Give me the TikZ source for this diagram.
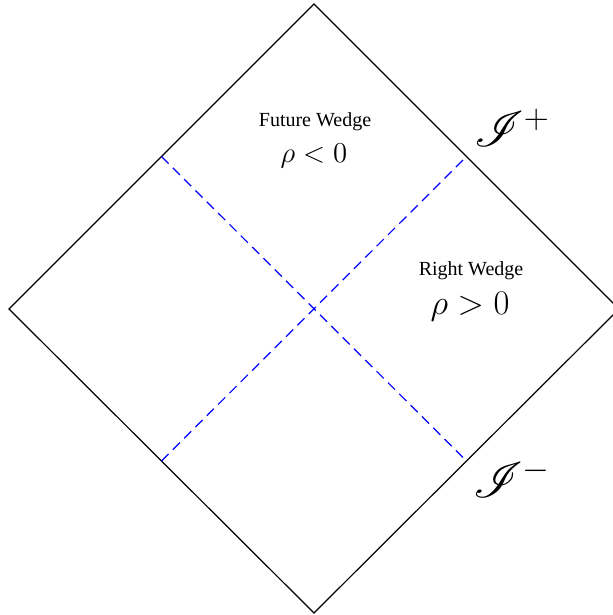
\documentclass[tikz,border=0pt]{standalone}
\usepackage{amsmath,amssymb}
\usepackage{mathrsfs}
\usepackage{fontspec}
\setmainfont{Liberation Serif}
\usepackage{tikz}
\usetikzlibrary{calc}

\begin{document}
\begin{tikzpicture}[x=0.5pt,y=-0.5pt]
  \useasboundingbox (0,0) rectangle (613,615);
  \clip (0,0) rectangle (613,615);
  \coordinate (t) at (314,4);
  \coordinate (l) at (9,309);
  \coordinate (r) at (619,309);
  \coordinate (b) at (314,613);
  \draw[line width=0.6pt] (t) -- (r) -- (b) -- (l) -- cycle;
  \coordinate (tl) at ($(t)!0.5!(l)$);
  \coordinate (tr) at ($(t)!0.5!(r)$);
  \coordinate (bl) at ($(b)!0.5!(l)$);
  \coordinate (br) at ($(b)!0.5!(r)$);
  \draw[blue,line width=0.6pt,dash pattern=on 5pt off 3pt] (tl) -- (br);
  \draw[blue,line width=0.6pt,dash pattern=on 5pt off 3pt] (bl) -- (tr);
  \node (fw) at (315,122) {Future Wedge};
  \node (fr) at (314,156) {\Large $\rho<0$};
  \node (rw) at (471,271) {Right Wedge};
  \node (rr) at (470,307) {\LARGE $\rho>0$};
  \node (sp) at (512,128) {\fontsize{23}{28}\selectfont $\mathscr{I}^+$};
  \node (sm) at (512,478) {\fontsize{23}{28}\selectfont $\mathscr{I}^-$};
\end{tikzpicture}
\end{document}
